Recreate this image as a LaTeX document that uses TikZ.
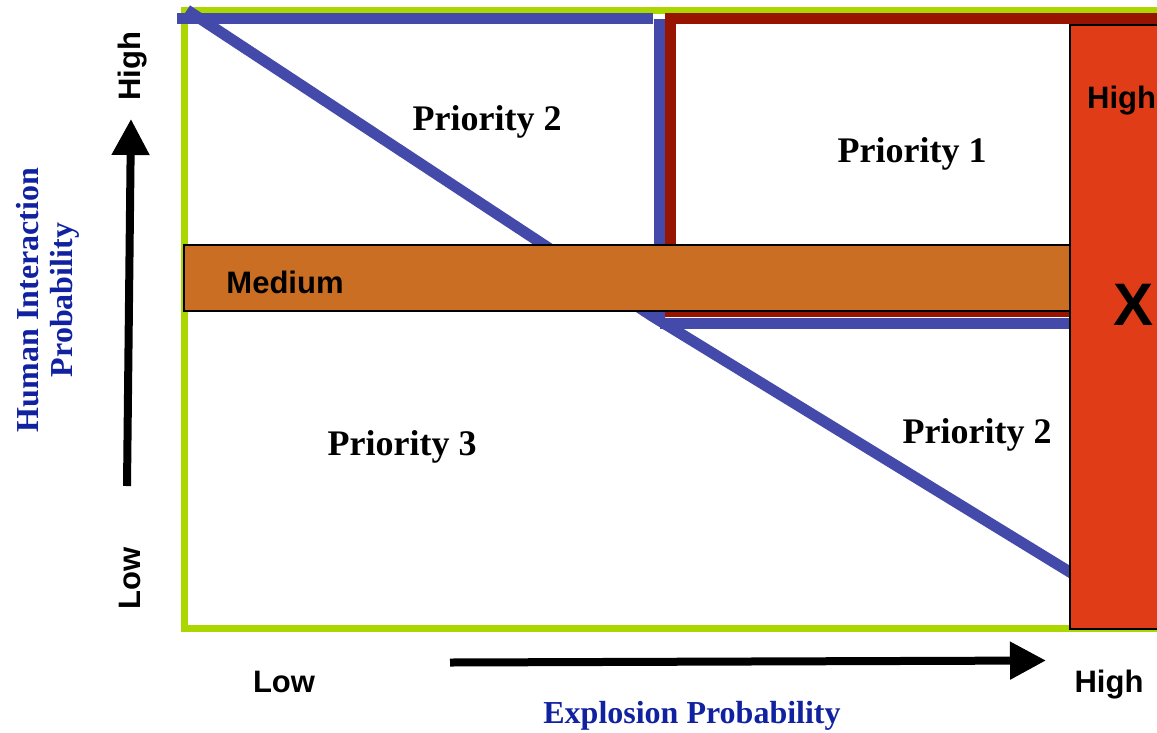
\documentclass[tikz,border=0pt]{standalone}
\usepackage{fontspec}
\setmainfont{Liberation Serif}
\setsansfont{Liberation Sans}
\usetikzlibrary{arrows.meta}
\definecolor{gborder}{RGB}{172,214,0}
\definecolor{bline}{RGB}{68,74,170}
\definecolor{dred}{RGB}{150,20,0}
\definecolor{medfill}{RGB}{201,110,34}
\definecolor{redfill}{RGB}{224,60,24}
\definecolor{lblue}{RGB}{17,34,160}
\tikzset{
  prio/.style={font=\rmfamily\bfseries\fontsize{36}{40}\selectfont, inner sep=0pt},
  axlbl/.style={font=\sffamily\bfseries\fontsize{31}{34}\selectfont, inner sep=0pt},
  ttl/.style={font=\rmfamily\bfseries\fontsize{32}{34}\selectfont, text=lblue, inner sep=0pt},
  blueln/.style={draw=bline, line width=11pt},
  axarrow/.style={line width=8pt, -{Triangle[length=36pt,width=36pt]}},
}
\begin{document}
\begin{tikzpicture}[x=1pt,y=-1pt]
\useasboundingbox (0,0) rectangle (1157,732);
\clip (0,0) rectangle (1157,732);
% green border
\draw[gborder, line width=7pt] (1175,10) -- (184,10) -- (184,628) -- (1175,628);
% blue lines
\draw[blueln] (177,18.5) -- (653,18.5);
\draw[blueln] (659,19) -- (659,322);
\draw[blueln] (660,323) -- (1072,323);
% dark red frame
\draw[dred, line width=11pt] (1180,18) -- (670,18) -- (670,311) -- (1180,311);
% diagonal
\draw[blueln] (187,10) -- (652,316) -- (1073,574);
% medium band
\node[draw=black, line width=1.5pt, fill=medfill, minimum width=887pt, minimum height=66pt, inner sep=0pt, anchor=north west] (med) at (183,244) {};
\node[axlbl, anchor=base] (medt) at (285,293) {Medium};
% red high band
\node[draw=black, line width=1.5pt, fill=redfill, minimum width=110pt, minimum height=604pt, inner sep=0pt, anchor=north west] (redb) at (1069,24) {};
\node[axlbl, anchor=base west] (hight) at (1087,108) {High};
\node[font=\sffamily\bfseries\fontsize{60}{60}\selectfont, inner sep=0pt, anchor=base] (xt) at (1133,325) {X};
% priority labels
\node[prio, anchor=base] (p2a) at (487,130) {Priority 2};
\node[prio, anchor=base] (p1) at (912,162) {Priority 1};
\node[prio, anchor=base] (p3) at (402,455) {Priority 3};
\node[prio, anchor=base] (p2b) at (977,443) {Priority 2};
% axes
\coordinate (ya) at (127,486);
\coordinate (yb) at (131,119);
\draw[axarrow] (ya) -- (yb);
\coordinate (xa) at (450,662.5);
\coordinate (xb) at (1046,660.5);
\draw[axarrow] (xa) -- (xb);
\node[axlbl, rotate=90, anchor=base] (yhigh) at (140,66) {High};
\node[axlbl, rotate=90, anchor=base] (ylow) at (140,578) {Low};
\node[axlbl, anchor=base] (xlow) at (284,692) {Low};
\node[axlbl, anchor=base] (xhigh) at (1109,692) {High};
\node[ttl, anchor=base] (xt2) at (692,723) {Explosion Probability};
\node[ttl, rotate=90, align=center] (yt) at (48,300) {Human Interaction\\Probability};
\end{tikzpicture}
\end{document}
